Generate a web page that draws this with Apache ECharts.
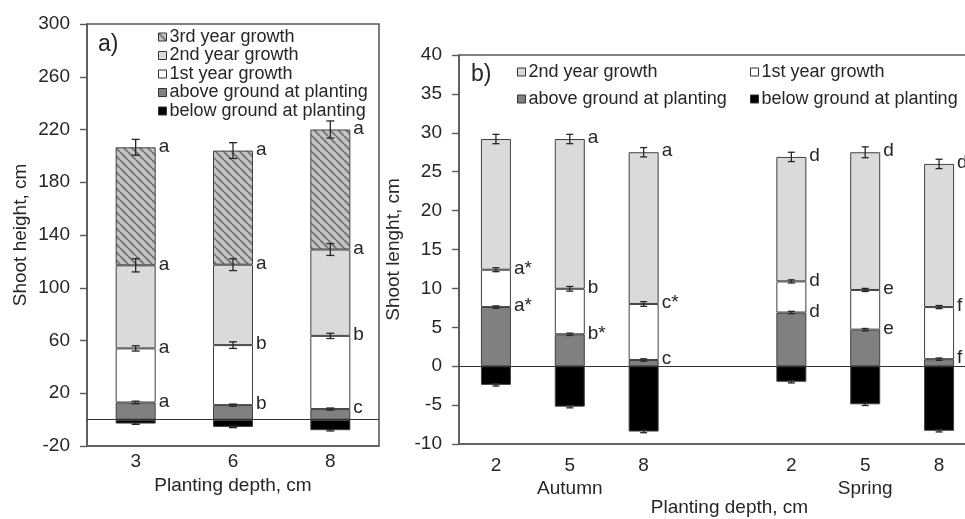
<!DOCTYPE html>
<html>
<head>
<meta charset="utf-8">
<script src="https://cdn.jsdelivr.net/npm/echarts@6/dist/echarts.min.js"></script>
<style>
html, body { margin: 0; padding: 0; background: #fff; }
#chart { width: 965px; height: 519px; }
</style>
</head>
<body>
<div id="chart"></div>
<script>
// a) shoot height, cm
const depthA = ['3', '6', '8'];
const ticksA = [-20, 20, 60, 100, 140, 180, 220, 260, 300];
const belowA = [-3, -5.5, -8];
const aboveA = [13, 11, 8];
const year1A = [41, 45.5, 55.5];
const year2A = [63, 61, 65.5];
const year3A = [89.5, 86.5, 91];
const errBelowA = [0.6, 0.6, 0.6];
const errAboveA = [1, 0.8, 0.8];
const errYear1A = [2, 2.5, 2];
const errYear2A = [5, 4.5, 4.5];
const errYear3A = [6, 6, 6.5];
const letAboveA = ['a', 'b', 'c'];
const letYear1A = ['a', 'b', 'b'];
const letYear2A = ['a', 'a', 'a'];
const letYear3A = ['a', 'a', 'a'];

// b) shoot lenght, cm
const depthB = ['2', '5', '8', '', '2', '5', '8'];
const seasonB = ['', 'Autumn', '', '', '', 'Spring', ''];
const belowB = [-2.4, -5.2, -8.4, null, -2.0, -4.9, -8.3];
const aboveB = [7.6, 4.1, 0.8, null, 6.9, 4.7, 0.9];
const year1B = [4.8, 5.85, 7.2, null, 4.0, 5.1, 6.7];
const year2B = [16.8, 19.25, 19.5, null, 16.0, 17.7, 18.4];
const errBelowB = [0.15, 0.15, 0.15, null, 0.15, 0.15, 0.15];
const errAboveB = [0.15, 0.15, 0.15, null, 0.15, 0.15, 0.15];
const errYear1B = [0.25, 0.3, 0.3, null, 0.2, 0.2, 0.2];
const errYear2B = [0.6, 0.6, 0.6, null, 0.6, 0.7, 0.6];
const letAboveB = ['a*', 'b*', 'c', '', 'd', 'e', 'f'];
const letYear1B = ['a*', 'b', 'c*', '', 'd', 'e', 'f'];
const letYear2B = ['', 'a', 'a', '', 'd', 'd', 'd'];

const FONT = 'Liberation Sans, Arial, sans-serif';
const TXT = '#262626';
const EDGE = '#404040';

// fill textures
function hatch() {
  const c = document.createElement('canvas');
  c.width = 8; c.height = 8;
  const g = c.getContext('2d');
  g.fillStyle = '#c6c6c6';
  g.fillRect(0, 0, 8, 8);
  g.strokeStyle = '#7c7c7c';
  g.lineWidth = 2.2;
  [-8, 0, 8].forEach(o => { g.beginPath(); g.moveTo(o, 0); g.lineTo(o + 8, 8); g.stroke(); });
  return c;
}
function speckle() {
  const c = document.createElement('canvas');
  c.width = 4; c.height = 4;
  const g = c.getContext('2d');
  g.fillStyle = '#dcdcdc';
  g.fillRect(0, 0, 4, 4);
  g.fillStyle = '#cfcfcf';
  g.fillRect(1, 0, 1, 1);
  g.fillRect(3, 2, 1, 1);
  return c;
}
const hatchFill = { image: hatch(), repeat: 'repeat' };
const speckFill = { image: speckle(), repeat: 'repeat' };

const fills = {
  'below ground at planting': '#000000',
  'above ground at planting': '#808080',
  '1st year growth': '#ffffff',
  '2nd year growth': speckFill,
  '3rd year growth': hatchFill
};

function bar(name, data, idx, width) {
  return {
    name: name, type: 'bar', stack: 's' + idx,
    xAxisIndex: idx, yAxisIndex: idx,
    barWidth: width, data: data,
    itemStyle: { color: fills[name], borderColor: EDGE, borderWidth: 1 },
    emphasis: { disabled: true }
  };
}

// segment tops from the stacked values
function tops(parts) {
  return parts[0].map((_, i) => {
    if (parts[0][i] == null) return null;
    return parts.reduce((s, p) => s + p[i], 0);
  });
}

function errSeries(idx, topsList, errList, cap) {
  const data = [];
  topsList.forEach((t, k) => t.forEach((v, i) => {
    if (v != null) data.push([i, v, errList[k][i]]);
  }));
  return {
    type: 'custom', xAxisIndex: idx, yAxisIndex: idx, z: 5, silent: true,
    data: data,
    renderItem: function (params, api) {
      const x = api.value(0), t = api.value(1), e = api.value(2);
      const hi = api.coord([x, t + e]);
      const lo = api.coord([x, t - e]);
      const st = { stroke: '#262626', lineWidth: 1.3 };
      return {
        type: 'group', children: [
          { type: 'line', shape: { x1: hi[0], y1: hi[1], x2: lo[0], y2: lo[1] }, style: st },
          { type: 'line', shape: { x1: hi[0] - cap, y1: hi[1], x2: hi[0] + cap, y2: hi[1] }, style: st },
          { type: 'line', shape: { x1: lo[0] - cap, y1: lo[1], x2: lo[0] + cap, y2: lo[1] }, style: st }
        ]
      };
    }
  };
}

function letterSeries(idx, topsList, letList, half) {
  const data = [], text = [];
  topsList.forEach((t, k) => t.forEach((v, i) => {
    if (v != null && letList[k][i]) { data.push([i, v]); text.push(letList[k][i]); }
  }));
  return {
    type: 'custom', xAxisIndex: idx, yAxisIndex: idx, z: 6, silent: true,
    data: data,
    renderItem: function (params, api) {
      const p = api.coord([api.value(0), api.value(1)]);
      return {
        type: 'text', x: p[0] + half + 3, y: p[1] - 1,
        style: { text: text[params.dataIndex], fill: TXT, font: '19px ' + FONT, align: 'left', verticalAlign: 'middle' }
      };
    }
  };
}

const topAboveA = tops([aboveA]);
const topYear1A = tops([aboveA, year1A]);
const topYear2A = tops([aboveA, year1A, year2A]);
const topYear3A = tops([aboveA, year1A, year2A, year3A]);
const topAboveB = tops([aboveB]);
const topYear1B = tops([aboveB, year1B]);
const topYear2B = tops([aboveB, year1B, year2B]);

const chart = echarts.init(document.getElementById('chart'));

const axisLine = { lineStyle: { color: '#5a5a5a', width: 1.6 } };
const zeroLine = {
  silent: true, symbol: 'none', label: { show: false },
  lineStyle: { color: '#333', width: 1, type: 'solid' },
  data: [{ yAxis: 0 }]
};

const series = [
  bar('below ground at planting', belowA, 0, 40),
  bar('above ground at planting', aboveA, 0, 40),
  bar('1st year growth', year1A, 0, 40),
  bar('2nd year growth', year2A, 0, 40),
  Object.assign(bar('3rd year growth', year3A, 0, 40), { markLine: zeroLine }),
  errSeries(0, [belowA, topAboveA, topYear1A, topYear2A, topYear3A],
    [errBelowA, errAboveA, errYear1A, errYear2A, errYear3A], 4),
  letterSeries(0, [topAboveA, topYear1A, topYear2A, topYear3A],
    [letAboveA, letYear1A, letYear2A, letYear3A], 20),

  bar('below ground at planting', belowB, 1, 30),
  bar('above ground at planting', aboveB, 1, 30),
  bar('1st year growth', year1B, 1, 30),
  Object.assign(bar('2nd year growth', year2B, 1, 30), { markLine: zeroLine }),
  errSeries(1, [belowB, topAboveB, topYear1B, topYear2B],
    [errBelowB, errAboveB, errYear1B, errYear2B], 3.5),
  letterSeries(1, [topAboveB, topYear1B, topYear2B],
    [letAboveB, letYear1B, letYear2B], 15)
];

const legendBase = {
  orient: 'vertical', selectedMode: false, icon: 'rect',
  itemWidth: 8, itemHeight: 8,
  itemStyle: { borderColor: '#333', borderWidth: 1 },
  textStyle: { fontFamily: FONT, fontSize: 18, color: TXT, lineHeight: 18, padding: [0, 0, 0, -2] }
};

chart.setOption({
  animation: false,
  textStyle: { fontFamily: FONT },
  grid: [
    { left: 87, top: 24, width: 292, height: 422, show: true, borderColor: '#5a5a5a', borderWidth: 1.6, outerBoundsMode: 'none' },
    { left: 459, top: 55, width: 517, height: 389, show: true, borderColor: '#5a5a5a', borderWidth: 1.6, outerBoundsMode: 'none' }
  ],
  xAxis: [
    {
      type: 'category', gridIndex: 0, data: depthA,
      axisLine: Object.assign({ onZero: false }, axisLine), axisTick: { show: false },
      axisLabel: { color: TXT, fontSize: 19, margin: 6 },
      name: 'Planting depth, cm', nameLocation: 'middle', nameGap: 28,
      nameTextStyle: { color: TXT, fontSize: 19 }
    },
    {
      type: 'category', gridIndex: 1, data: depthB,
      axisLine: Object.assign({ onZero: false }, axisLine), axisTick: { show: false },
      axisLabel: {
        color: TXT, fontSize: 19, margin: 10, lineHeight: 23, interval: 0,
        formatter: (v, i) => seasonB[i] ? v + '\n' + seasonB[i] : v
      },
      name: 'Planting depth, cm', nameLocation: 'middle', nameGap: 54, nameMoveOverlap: false,
      nameTextStyle: { color: TXT, fontSize: 19, padding: [0, 0, 0, 24] }
    }
  ],
  yAxis: [
    {
      type: 'value', gridIndex: 0, min: -20, max: 300,
      axisLine: Object.assign({ show: true }, axisLine),
      axisTick: { show: true, length: 7, customValues: ticksA, lineStyle: { color: '#5a5a5a', width: 1.4 } },
      axisLabel: { color: TXT, fontSize: 19, margin: 17, customValues: ticksA },
      splitLine: { show: false },
      name: 'Shoot height, cm', nameLocation: 'middle', nameGap: 57,
      nameTextStyle: { color: TXT, fontSize: 19 }
    },
    {
      type: 'value', gridIndex: 1, min: -10, max: 40, interval: 5,
      axisLine: Object.assign({ show: true }, axisLine),
      axisTick: { show: true, length: 7, lineStyle: { color: '#5a5a5a', width: 1.4 } },
      axisLabel: { color: TXT, fontSize: 19, margin: 17 },
      splitLine: { show: false },
      name: 'Shoot lenght, cm', nameLocation: 'middle', nameGap: 44,
      nameTextStyle: { color: TXT, fontSize: 19 }
    }
  ],
  legend: [
    Object.assign({}, legendBase, {
      left: 153, top: 23, itemGap: 0.5,
      data: ['3rd year growth', '2nd year growth', '1st year growth', 'above ground at planting', 'below ground at planting']
    }),
    Object.assign({}, legendBase, {
      left: 512, top: 58, itemGap: 9,
      data: ['2nd year growth', 'above ground at planting']
    }),
    Object.assign({}, legendBase, {
      left: 745, top: 58, itemGap: 9,
      data: ['1st year growth', 'below ground at planting']
    })
  ],
  graphic: [
    { type: 'text', left: 98, top: 33, style: { text: 'a)', font: '23px ' + FONT, fill: TXT } },
    { type: 'text', left: 471, top: 63, style: { text: 'b)', font: '23px ' + FONT, fill: TXT } }
  ],
  series: series
});
</script>
</body>
</html>
